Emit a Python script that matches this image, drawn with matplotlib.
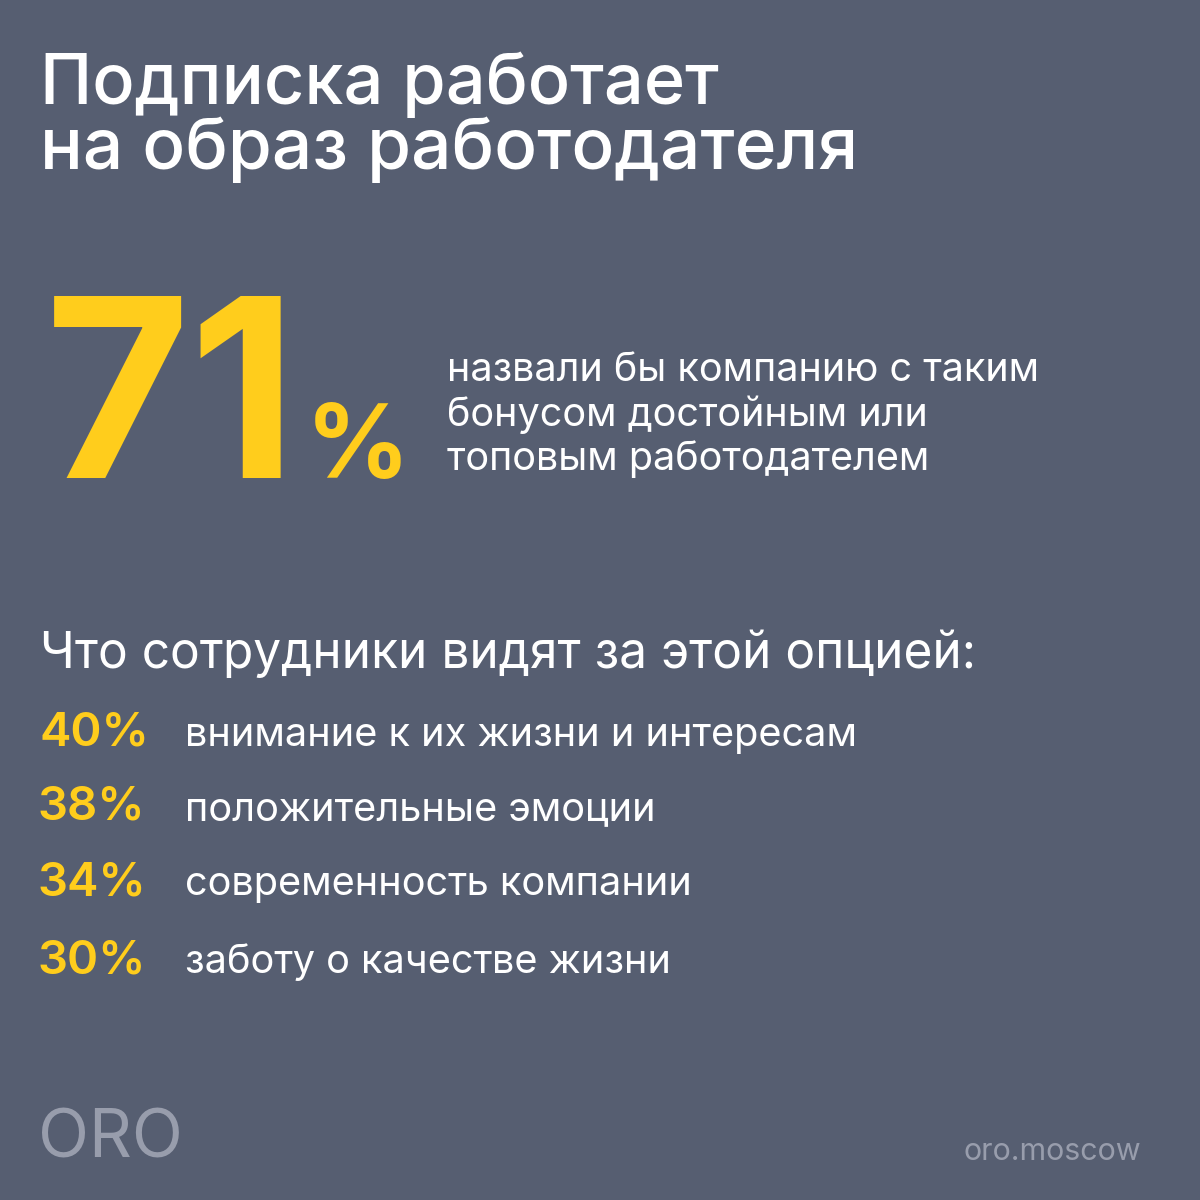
import matplotlib
matplotlib.use("Agg")
import matplotlib.pyplot as plt

# --- data ---
title_lines = ["Подписка работает", "на образ работодателя"]
big_value = "71"
big_desc = ["назвали бы компанию с таким",
            "бонусом достойным или",
            "топовым работодателем"]
subtitle = "Что сотрудники видят за этой опцией:"
shares = [40, 38, 34, 30]
reasons = ["внимание к их жизни и интересам",
           "положительные эмоции",
           "современность компании",
           "заботу о качестве жизни"]

BG = "#565e71"
YELLOW = "#ffcd1c"
WHITE = "#ffffff"
GREY = "#989dac"

plt.rcParams['font.family'] = ['Inter', 'DejaVu Sans']

fig = plt.figure(figsize=(12, 12), dpi=100, facecolor=BG)
ax = fig.add_axes([0, 0, 1, 1])
ax.set_xlim(0, 1200)
ax.set_ylim(1200, 0)
ax.axis('off')
ax.set_facecolor(BG)
renderer = fig.canvas.get_renderer()


def fit_text(s, x0, x1, y, color, weight='normal', size=30, ha='left'):
    # scale the font so the text spans from x0 to x1 (pixels)
    t = ax.text(x0 if ha == 'left' else x1, y, s, color=color,
                fontsize=size, fontweight=weight, ha=ha, va='baseline')
    w = t.get_window_extent(renderer).width
    t.set_fontsize(size * (x1 - x0) / w)
    return t


# title
fit_text(title_lines[0], 40, 720, 104, WHITE, weight='medium', size=48)
fit_text(title_lines[1], 40, 858, 169, WHITE, weight='medium', size=48)

# big number
fit_text(big_value, 45, 298, 478, YELLOW, weight='bold', size=170)
fit_text("%", 306, 410, 478, YELLOW, weight='bold', size=90)
desc_base = [381, 426, 470]
fit_text(big_desc[0], 447, 1040, desc_base[0], WHITE, size=26)
ref = ax.texts[-1].get_fontsize()
for s, y in zip(big_desc[1:], desc_base[1:]):
    ax.text(447, y, s, color=WHITE, fontsize=ref, va='baseline')

# list
fit_text(subtitle, 40, 976, 668, WHITE, size=36)
row_base = [746, 820, 895, 973]
fit_text(reasons[0], 185, 858, row_base[0], WHITE, size=28)
lab_size = ax.texts[-1].get_fontsize()
fit_text(f"{shares[0]}%", 40, 150, row_base[0], YELLOW, weight='semibold', size=36)
pct_size = ax.texts[-1].get_fontsize()
for v, r, y in zip(shares[1:], reasons[1:], row_base[1:]):
    ax.text(38, y, f"{v}%", color=YELLOW, fontsize=pct_size,
            fontweight='semibold', va='baseline')
    ax.text(185, y, r, color=WHITE, fontsize=lab_size, va='baseline')

# footer
fit_text("ORO", 38, 183, 1158, GREY, weight='normal', size=50)
fit_text("oro.moscow", 963, 1141, 1160, GREY, size=20, ha='right')

fig.savefig("out.png", dpi=100, facecolor=BG)
